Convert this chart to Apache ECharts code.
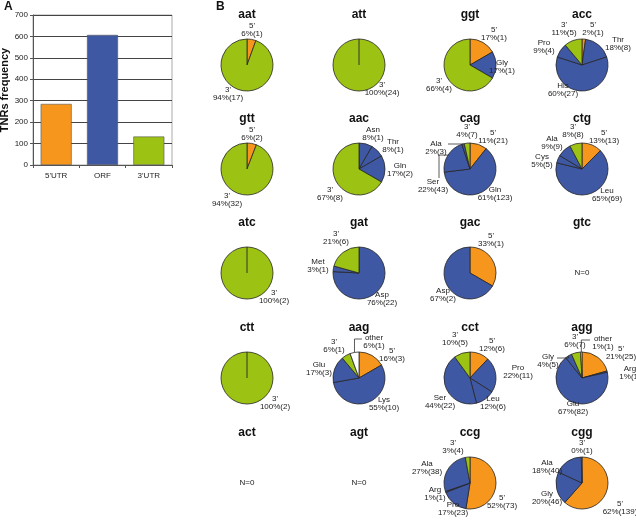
<!DOCTYPE html>
<html><head><meta charset="utf-8">
<script src="https://cdn.jsdelivr.net/npm/echarts@6/dist/echarts.min.js"></script>
<style>html,body{margin:0;padding:0;background:#fff}#c{width:636px;height:520px}</style>
</head><body><div id="c"></div>
<script>
// ---------- Panel A data ----------
const barCats = ["5'UTR", "ORF", "3'UTR"];
const barVals = [285, 607, 133];

// ---------- Panel B data: [region, count, percent label] ----------
const aat = [["5'",1,6],["3'",17,94]];
const att = [["5'",0,0],["3'",24,100]];
const ggt = [["5'",1,17],["Gly",1,17],["3'",4,66]];
const acc = [["5'",1,2],["Thr",8,18],["His",27,60],["Pro",4,9],["3'",5,11]];
const gtt = [["5'",2,6],["3'",32,94]];
const aac = [["Asn",1,8],["Thr",1,8],["Gln",2,17],["3'",8,67]];
const cag = [["5'",21,11],["Gln",123,61],["Ser",43,22],["Ala",3,2],["3'",7,4]];
const ctg = [["5'",13,13],["Leu",69,65],["Cys",5,5],["Ala",9,9],["3'",8,8]];
const atc = [["5'",0,0],["3'",2,100]];
const gat = [["Asp",22,76],["Met",1,3],["3'",6,21]];
const gac = [["5'",1,33],["Asp",2,67]];
const gtc = [];
const ctt = [["5'",0,0],["3'",2,100]];
const aag = [["5'",3,16],["Lys",10,55],["Glu",3,17],["3'",1,6],["other",1,6]];
const cct = [["5'",6,12],["Pro",11,22],["Leu",6,12],["Ser",22,44],["3'",5,10]];
const agg = [["5'",25,21],["Arg",1,1],["Glu",82,67],["Gly",5,4],["3'",7,6],["other",1,1]];
const act = [];
const agt = [];
const ccg = [["5'",73,52],["Pro",23,17],["Arg",1,1],["Ala",38,27],["3'",4,3]];
const cgg = [["5'",139,62],["Gly",46,20],["Ala",40,18],["3'",1,0]];

const codonGrid = [
  ['aat','att','ggt','acc'],
  ['gtt','aac','cag','ctg'],
  ['atc','gat','gac','gtc'],
  ['ctt','aag','cct','agg'],
  ['act','agt','ccg','cgg']
];
const slicesOf = {aat,att,ggt,acc,gtt,aac,cag,ctg,atc,gat,gac,gtc,ctt,aag,cct,agg,act,agt,ccg,cgg};

// ---------- layout (label anchor offsets from pie centre) ----------
const labelAt = {
  aat: [[5,-35],[-19,29]],
  att: [null,[23,24]],
  ggt: [[24,-31],[32,2],[-31,20]],
  acc: [[11,-36],[36,-21],[-19,25],[-38,-18],[-18,-36]],
  gtt: [[5,-35],[-20,31]],
  aac: [[14,-35],[34,-23],[41,1],[-29,25]],
  cag: [[23,-32],[25,25],[-37,17],[-34,-21],[-3,-38]],
  ctg: [[22,-32],[25,26],[-40,-8],[-30,-26],[-9,-38]],
  atc: [null,[27,24]],
  gat: [[23,26],[-41,-7],[-23,-35]],
  gac: [[21,-33],[-27,22]],
  ctt: [null,[28,25]],
  aag: [[33,-23],[25,26],[-40,-9],[-25,-32],[15,-36]],
  cct: [[22,-33],[48,-6],[23,25],[-30,24],[-15,-39]],
  agg: [[39,-25],[48,-5],[-9,30],[-34,-17],[-7,-37],[21,-35]],
  ccg: [[32,19],[-17,26],[-35,11],[-43,-15],[-17,-36]],
  cgg: [[38,25],[-35,15],[-35,-16],[0,-36]]
};
// leader lines: slice index -> [attach dx, attach dy (from label centre), mode]
const leaders = {
  cag: {3:[12,-4,'h'], 2:[6,-8,'v']},
  aag: {4:[-12,-3,'h']},
  agg: {3:[9,-3,'h'], 5:[-13,-3,'h']}
};

const FONT = '"Liberation Sans", Arial, sans-serif';
const ORANGE = '#F7961C', BLUE = '#3F58A4', GREEN = '#9CC214', WHITE = '#FFFFFF';
const colX = [247, 359, 470, 582];
const rowY = [65, 169, 273, 378, 483];
const R = 26;

function colorOf(n){ return n === "5'" ? ORANGE : n === "3'" ? GREEN : n === 'other' ? WHITE : BLUE; }
function totalOf(sl){ return sl.reduce((a,s)=>a+s[1],0); }
function startAngle(sl, i){
  let before = 0; for (let k=0;k<i;k++) before += sl[k][1];
  return before / totalOf(sl) * 2 * Math.PI;
}
function midAngle(sl, i){
  return startAngle(sl, i) + sl[i][1] / totalOf(sl) * Math.PI;
}

const graphics = [
  {type:'text', x:4, y:7, style:{text:'A', font:'bold 12px '+FONT, fill:'#111', align:'left', verticalAlign:'middle', textAlign:'left', textVerticalAlign:'middle'}},
  {type:'text', x:216, y:7, style:{text:'B', font:'bold 12px '+FONT, fill:'#111', align:'left', verticalAlign:'middle', textAlign:'left', textVerticalAlign:'middle'}}
];
const series = [{
  type:'bar', xAxisIndex:0, yAxisIndex:0, barWidth:31, silent:true,
  data: barVals.map((v,i)=>({value:v, itemStyle:{color:[ORANGE,BLUE,GREEN][i], borderColor:'#555', borderWidth:0.6}}))
}];

codonGrid.forEach((row, ri) => row.forEach((codon, ci) => {
  const cx = colX[ci], cy = rowY[ri];
  graphics.push({type:'text', x:cx, y:cy-50, style:{text:codon, font:'bold 12px '+FONT, fill:'#111', align:'center', verticalAlign:'middle', textAlign:'center', textVerticalAlign:'middle'}});
  const sl = slicesOf[codon];
  if (!sl.length) {
    graphics.push({type:'text', x:cx, y:cy, style:{text:'N=0', font:'8px '+FONT, fill:'#222', align:'center', verticalAlign:'middle', textAlign:'center', textVerticalAlign:'middle'}});
    return;
  }
  const offs = labelAt[codon] || [];
  series.push({
    type:'pie', center:[cx,cy], radius:R, startAngle:90, clockwise:true,
    avoidLabelOverlap:false, silent:true, animation:false,
    label:{show:true, position:'outside', fontSize:8, lineHeight:7.5, color:'#222', fontFamily:FONT,
      formatter: p => p.name + '\n' + sl[p.dataIndex][2] + '%(' + sl[p.dataIndex][1] + ')'},
    labelLine:{show:false},
    itemStyle:{borderColor:'#262626', borderWidth:0.8},
    emphasis:{disabled:true},
    data: sl.map(s => {
      const d = {name:s[0], value:s[1], itemStyle:{color:colorOf(s[0])}};
      if (s[1] === 0) d.label = {show:false};
      return d;
    }),
    labelLayout: p => {
      const o = offs[p.dataIndex];
      if (!o) return {};
      return {x:cx+o[0], y:cy+o[1], align:'center', verticalAlign:'middle'};
    }
  });
  // a pie made of one non-empty slice still shows its slice edge (radius line)
  const nonZero = sl.map((s,i)=>[s,i]).filter(x=>x[0][1]>0);
  if (nonZero.length === 1) {
    const th = startAngle(sl, nonZero[0][1]);
    graphics.push({type:'line', shape:{x1:cx, y1:cy, x2:cx + R*Math.sin(th), y2:cy - R*Math.cos(th)},
      style:{stroke:'#262626', lineWidth:0.9}, z:10});
  }
  const ld = leaders[codon];
  if (ld) Object.keys(ld).forEach(k => {
    const i = +k, o = offs[i], a = ld[k];
    const th = midAngle(sl, i);
    const E = [cx + R*Math.sin(th), cy - R*Math.cos(th)];
    const P = [cx + o[0] + a[0], cy + o[1] + a[1]];
    const pts = a[2] === 'v' ? [P, [P[0], E[1]], E] : [P, [E[0], P[1]], E];
    graphics.push({type:'polyline', shape:{points:pts}, style:{stroke:'#333', lineWidth:0.8, fill:null}, z:10});
  });
}));

const chart = echarts.init(document.getElementById('c'), null, {renderer:'canvas'});
chart.setOption({
  animation:false,
  backgroundColor:'#fff',
  textStyle:{fontFamily:FONT},
  grid:{left:33, top:15, width:139, height:150, show:true, borderColor:'#aaa', borderWidth:1, containLabel:false, outerBoundsMode:'none'},
  xAxis:{type:'category', data:barCats,
    axisLine:{lineStyle:{color:'#555'}}, axisTick:{show:true, length:3, lineStyle:{color:'#555'}},
    axisLabel:{fontSize:8, color:'#222', margin:7, fontFamily:FONT}},
  yAxis:{type:'value', min:0, max:700, interval:100,
    name:'TNRs frequency', nameLocation:'middle', nameGap:21, nameRotate:90,
    nameTextStyle:{fontSize:11, fontWeight:'bold', color:'#111', fontFamily:FONT},
    axisLine:{show:true, lineStyle:{color:'#555'}}, axisTick:{show:true, length:3, lineStyle:{color:'#555'}},
    splitLine:{lineStyle:{color:'#444', width:1}},
    axisLabel:{fontSize:8, color:'#222', margin:5, fontFamily:FONT}},
  graphic: graphics,
  series: series
});
</script></body></html>
